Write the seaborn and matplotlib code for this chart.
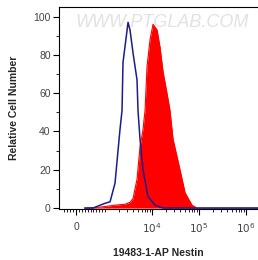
import numpy as np
import pandas as pd
import matplotlib
matplotlib.use("Agg")
import matplotlib.pyplot as plt
import seaborn as sns

# control (isotype) histogram - blue outline
ctrl_x = [300, 586, 828, 1000, 1280, 1630, 1890, 2080, 2300, 2410, 3090, 3400, 3940,
          4790, 5030, 5550, 6430, 8220, 11600, 17200, 40000, 1.8e6]
ctrl_y = [0, 0, 1.5, 2.5, 3.3, 13, 30, 41, 51, 76, 97, 93, 81,
          67, 51, 36, 20, 6, 1.5, 0, 0, 0]

# Nestin stained histogram - red fill
nes_x = [300, 828, 1630, 2660, 3400, 3940, 4790, 5550, 6430, 7100, 7830, 9080, 10500,
         12800, 14800, 17200, 20800, 24100, 28000, 39400, 50500, 71100, 90700, 1.8e6]
nes_y = [0, 0.5, 1.5, 2, 3, 5, 15, 32, 41, 51, 74, 88, 96,
         93, 84, 71, 60, 51, 36, 20, 8, 1.5, 0, 0]

xtick_pos = [0, 1e4, 1e5, 1e6]
xtick_lab = ["0", r"$10^4$", r"$10^5$", r"$10^6$"]
ytick_pos = [0, 20, 40, 60, 80, 100]

sns.set_style("ticks")
plt.rcParams["font.family"] = ["Liberation Sans", "DejaVu Sans"]

fig = plt.figure(figsize=(2.58, 2.60), dpi=100)
ax = fig.add_axes([0.229, 0.196, 0.771, 0.777])
ax.set_xscale("symlog", linthresh=1000, linscale=0.555)

nes = pd.DataFrame({"x": nes_x, "y": nes_y})
ctrl = pd.DataFrame({"x": ctrl_x, "y": ctrl_y})
ax.fill_between(nes["x"], 0, nes["y"], color="#ff0000", linewidth=0, zorder=2)
sns.lineplot(data=nes, x="x", y="y", ax=ax, color="#ff0000", lw=0.8, zorder=2)
sns.lineplot(data=ctrl, x="x", y="y", ax=ax, color="#1c1c8a", lw=1.1, zorder=3)

ax.set_xlim(-586, 1.8e6)
ax.set_ylim(-0.5, 105)

ax.set_xticks(xtick_pos)
ax.set_xticklabels(xtick_lab)
minor = [-400, -300, -200, -100, 100, 200, 300, 400, 500, 600, 700, 800, 900]
for d in [1e3, 1e4, 1e5]:
    minor += [k * d for k in range(1, 10) if not (k == 1 and d > 1e3)]
ax.set_xticks(minor, minor=True)
ax.set_yticks(ytick_pos)
ax.set_yticks([10, 30, 50, 70, 90], minor=True)

ax.tick_params(axis="both", which="major", direction="out", length=4, width=0.8,
               labelsize=7.5, labelcolor="#444444", color="black")
ax.tick_params(axis="both", which="minor", direction="out", length=2, width=0.6,
               color="black")
ax.tick_params(axis="x", which="major", pad=5)
ax.tick_params(axis="y", which="major", pad=2)

for s in ["left", "top", "bottom"]:
    ax.spines[s].set_visible(True)
    ax.spines[s].set_linewidth(0.8)
    ax.spines[s].set_color("black")
ax.spines["right"].set_visible(False)

ax.set_xlabel("19483-1-AP Nestin", fontsize=7.5, fontweight="bold", labelpad=9)
ax.set_ylabel("Relative Cell Number", fontsize=7.5, fontweight="bold", labelpad=10)

ax.text(0.08, 0.965, "WWW.PTGLAB.COM", transform=ax.transAxes, fontsize=13,
        style="italic", color="#e2e2e2", va="top", ha="left", zorder=1)

fig.savefig("out.png", dpi=100)
